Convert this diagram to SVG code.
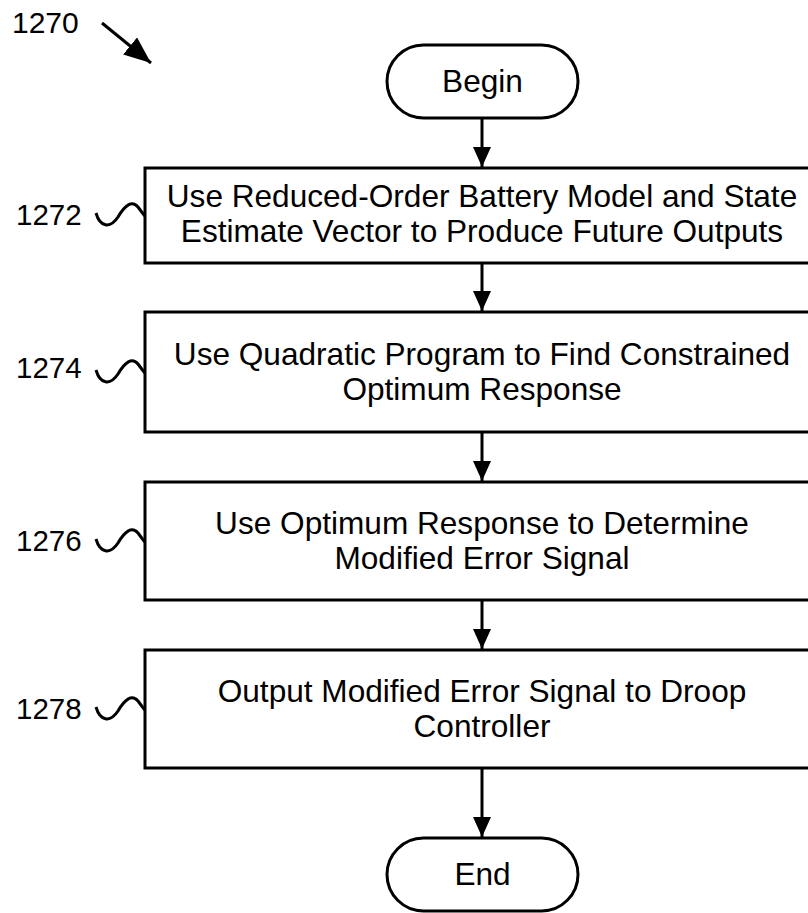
<svg xmlns="http://www.w3.org/2000/svg" width="808" height="913" viewBox="0 0 808 913">
<style>
.box{fill:#fff;stroke:#000;stroke-width:3}
.t{font-family:"Liberation Sans",Arial,sans-serif;font-size:31.6px;fill:#000;text-anchor:middle}
.lbl{font-family:"Liberation Sans",Arial,sans-serif;font-size:29.5px;fill:#000}
.conn{stroke:#000;stroke-width:3;fill:none}
.wave{stroke:#000;stroke-width:3;fill:none}
</style>
<defs>
<marker id="ah" markerUnits="userSpaceOnUse" markerWidth="20" markerHeight="18" refX="20" refY="9" orient="auto" viewBox="0 0 20 18">
<path d="M0,0 L20,9 L0,18 Z" fill="#000"/>
</marker>
<marker id="ahbig" markerUnits="userSpaceOnUse" markerWidth="27" markerHeight="22" refX="27" refY="11" orient="auto" viewBox="0 0 27 22">
<path d="M0,0 L27,11 L0,22 Z" fill="#000"/>
</marker>
<path id="wv" d="M96,-2 C100,12 110,14 118,2 C125,-10 132,-15 138,-8 C141,-4 143,-1 145,1"/>
</defs>
<g id="label-1270">
<text class="lbl" x="12" y="33" style="font-size:30px">1270</text>
<line class="conn" x1="102" y1="23" x2="151" y2="63" marker-end="url(#ahbig)"/>
</g>
<g id="begin">
<rect class="box" x="387" y="45" width="191" height="73" rx="36.5"/>
<text class="t" x="482.5" y="92">Begin</text>
</g>
<g id="n1272">
<rect class="box" x="145" y="168" width="680" height="95"/>
<text class="t" x="482" y="207">Use Reduced-Order Battery Model and State</text>
<text class="t" x="482" y="242">Estimate Vector to Produce Future Outputs</text>
<text class="lbl" x="16" y="225">1272</text>
<use href="#wv" class="wave" transform="translate(0,215)"/>
</g>
<g id="n1274">
<rect class="box" x="145" y="312" width="680" height="120"/>
<text class="t" x="482" y="365">Use Quadratic Program to Find Constrained</text>
<text class="t" x="482" y="400">Optimum Response</text>
<text class="lbl" x="16" y="378">1274</text>
<use href="#wv" class="wave" transform="translate(0,372)"/>
</g>
<g id="n1276">
<rect class="box" x="145" y="482" width="680" height="118"/>
<text class="t" x="482" y="534">Use Optimum Response to Determine</text>
<text class="t" x="482" y="569">Modified Error Signal</text>
<text class="lbl" x="16" y="551">1276</text>
<use href="#wv" class="wave" transform="translate(0,541)"/>
</g>
<g id="n1278">
<rect class="box" x="145" y="650" width="680" height="118"/>
<text class="t" x="482" y="702">Output Modified Error Signal to Droop</text>
<text class="t" x="482" y="737">Controller</text>
<text class="lbl" x="16" y="719">1278</text>
<use href="#wv" class="wave" transform="translate(0,709)"/>
</g>
<g id="end">
<rect class="box" x="387" y="838" width="191" height="73" rx="36.5"/>
<text class="t" x="482.5" y="885">End</text>
</g>
<g id="connectors">
<line class="conn" x1="482" y1="118" x2="482" y2="167" marker-end="url(#ah)"/>
<line class="conn" x1="482" y1="263" x2="482" y2="311" marker-end="url(#ah)"/>
<line class="conn" x1="482" y1="432" x2="482" y2="481" marker-end="url(#ah)"/>
<line class="conn" x1="482" y1="600" x2="482" y2="649" marker-end="url(#ah)"/>
<line class="conn" x1="482" y1="768" x2="482" y2="837" marker-end="url(#ah)"/>
</g>
</svg>
